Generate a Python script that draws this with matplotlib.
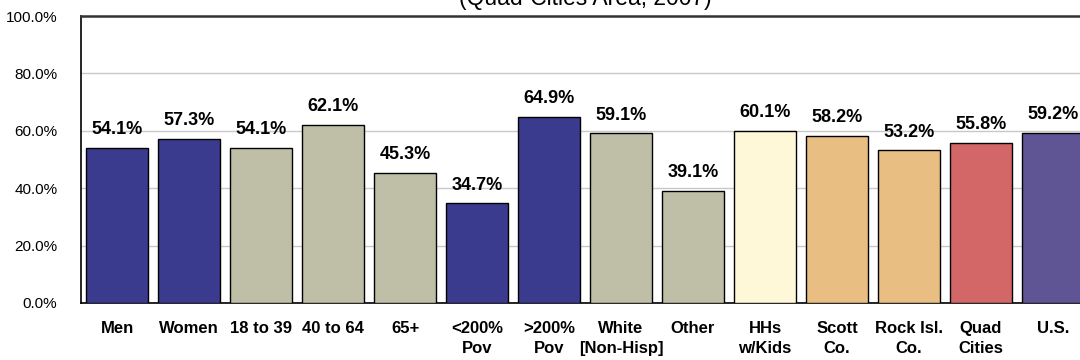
import matplotlib
matplotlib.use("Agg")
import matplotlib.pyplot as plt
from matplotlib.ticker import FuncFormatter

categories = ["Men", "Women", "18 to 39", "40 to 64", "65+", "<200%\nPov", ">200%\nPov",
              "White\n[Non-Hisp]", "Other", "HHs\nw/Kids", "Scott\nCo.", "Rock Isl.\nCo.",
              "Quad\nCities", "U.S."]
values = [54.1, 57.3, 54.1, 62.1, 45.3, 34.7, 64.9, 59.1, 39.1, 60.1, 58.2, 53.2, 55.8, 59.2]

navy = "#3A3A8E"
sage = "#BFBFA8"
colors = [navy, navy, sage, sage, sage, navy, navy, sage, sage,
          "#FFF8D8", "#E8BE82", "#E8BE82", "#D36767", "#5F5595"]

narrow = ["Liberation Sans Narrow", "Liberation Sans", "DejaVu Sans"]
plt.rcParams["font.family"] = ["Liberation Sans", "DejaVu Sans"]

fig = plt.figure(figsize=(10.8, 3.6), dpi=100)
ax = fig.add_axes([81 / 1080, 57 / 360, 1008 / 1080, 287 / 360])

x = list(range(len(values)))
ax.bar(x, values, width=0.86, color=colors, edgecolor="black", linewidth=1, zorder=3)
for xi, v in zip(x, values):
    ax.annotate(f"{v:.1f}%", (xi, v), xytext=(0, 7), textcoords="offset points",
                ha="center", va="bottom", fontsize=13, fontweight="bold", family=narrow)

ax.set_xlim(-0.5, len(values) - 0.5)
ax.set_ylim(0, 100)
ax.set_yticks([0, 20, 40, 60, 80, 100])
ax.yaxis.set_major_formatter(FuncFormatter(lambda v, p: f"{v:.1f}%"))
ax.grid(axis="y", color="#C8C8C8", linewidth=1, zorder=0)
ax.set_xticks(x)
ax.set_xticklabels(categories, fontsize=12, fontweight="bold", family=narrow, linespacing=1.45)
ax.tick_params(axis="x", length=0, pad=13)
ax.tick_params(axis="y", length=0, pad=17, labelsize=11)
for s in ax.spines.values():
    s.set_linewidth(1.2)
ax.spines["top"].set_linewidth(1.8)
ax.spines["top"].set_color("#333333")

# title is cropped at the top edge in the original chart
fig.text(585 / 1080, 355 / 360, "(Quad-Cities Area, 2007)", ha="center", va="baseline",
         fontsize=16.5)

fig.savefig("out.png", dpi=100)
